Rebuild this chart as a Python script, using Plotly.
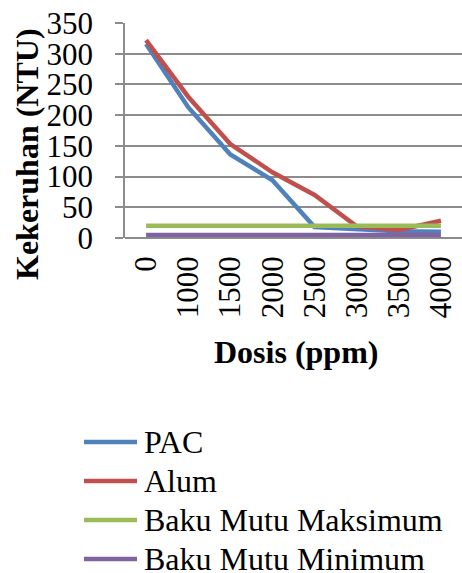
import plotly.graph_objects as go

dosis = ["0", "1000", "1500", "2000", "2500", "3000", "3500", "4000"]
pac = [316, 213, 136, 94, 18, 14, 11, 10]
alum = [322, 230, 153, 107, 70, 19, 13, 28]
baku_maks = [20, 20, 20, 20, 20, 20, 20, 20]
baku_min = [5, 5, 5, 5, 5, 5, 5, 5]

series = [
    ("PAC", pac, "#4F81BD"),
    ("Alum", alum, "#C0504D"),
    ("Baku Mutu Maksimum", baku_maks, "#9BBB59"),
    ("Baku Mutu Minimum", baku_min, "#8064A2"),
]

FONT = "Liberation Serif, Times New Roman, serif"
W, H = 462, 573
L, R, T, B = 125, 0, 23, 335
PW, PH = W - L - R, H - T - B


def px_to_paper(xp, yp):
    return (xp - L) / PW, (H - B - yp) / PH


fig = go.Figure()
for name, vals, col in series:
    fig.add_trace(go.Scatter(x=dosis, y=vals, name=name, mode="lines",
                             line=dict(color=col, width=4.5), showlegend=False))

# legend drawn below the chart (symbol line + label per series)
shapes, annotations = [], []
leg_y = [442, 481, 520, 559]
for (name, vals, col), yp in zip(series, leg_y):
    x0, y0 = px_to_paper(84, yp)
    x1, _ = px_to_paper(137, yp)
    shapes.append(dict(type="line", xref="paper", yref="paper", x0=x0, x1=x1, y0=y0, y1=y0,
                       line=dict(color=col, width=4.5)))
    xt, yt = px_to_paper(142, yp)
    annotations.append(dict(text=name, xref="paper", yref="paper", x=xt, y=yt,
                            xanchor="left", yanchor="middle", showarrow=False,
                            font=dict(family=FONT, size=32, color="black")))

xa, ya = px_to_paper(27, 154)
annotations.append(dict(text="<b>Kekeruhan (NTU)</b>", xref="paper", yref="paper",
                        x=xa, y=ya, xanchor="center", yanchor="middle",
                        textangle=-90, showarrow=False, font=dict(family=FONT, size=32)))
xa, ya = px_to_paper(296, 352)
annotations.append(dict(text="<b>Dosis (ppm)</b>", xref="paper", yref="paper",
                        x=xa, y=ya, xanchor="center", yanchor="middle",
                        showarrow=False, font=dict(family=FONT, size=32)))

fig.update_layout(
    width=W, height=H,
    margin=dict(l=L, r=R, t=T, b=B),
    paper_bgcolor="white", plot_bgcolor="white",
    font=dict(family=FONT, size=31, color="black"),
    showlegend=False,
    xaxis=dict(type="category", range=[-0.5, 7.5], tickangle=-90,
               showgrid=False, showline=False, zeroline=False, automargin=False,
               ticks="", tickfont=dict(family=FONT, size=31), ticklabelstandoff=11),
    yaxis=dict(range=[0, 350], dtick=50, showgrid=True, gridcolor="#8c8c8c", gridwidth=1.5,
               showline=True, linecolor="#8c8c8c", linewidth=1.5, automargin=False,
               ticks="outside", ticklen=8, tickcolor="#8c8c8c", tickwidth=1.5,
               zeroline=True, zerolinecolor="#8c8c8c", zerolinewidth=1.5,
               tickfont=dict(family=FONT, size=31), ticklabelstandoff=16),
    shapes=shapes,
    annotations=annotations,
)

fig.write_html("out.html")
